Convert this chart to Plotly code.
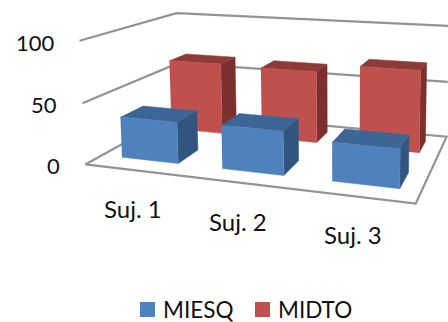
import numpy as np
import plotly.graph_objects as go

# Chart data
categories = ["Suj. 1", "Suj. 2", "Suj. 3"]
series_names = ["MIESQ", "MIDTO"]
miesq = [34, 35, 30]
midto = [64, 63, 70]
y_ticks = [0, 50, 100]

# Face colours of each series: front, top, right side
blue_faces = ("#4F81BD", "#3D6697", "#325580")
red_faces = ("#C0504D", "#8E3A38", "#7B302E")
GRID = "#939393"
TEXT = "#111111"

# Depth span of each series on the floor, and the bar layout along the category axis
blue_depth = (0.15, 0.37)
red_depth = (0.68, 0.88)
BAR_WIDTH = 0.58
CATEGORY_STEP = 1.015

# Perspective camera taking (category, depth, value) to screen position
CAMERA = np.array([
    [91.9437, 139.228, -0.0756199, 85.2989],
    [4.12098, -23.7281, -1.24599, 164.417],
    [-0.0438041, 0.25161, -0.000221645, 1.0],
])


def project(x, y, z):
    h = CAMERA @ np.array([x, y, z, 1.0])
    return h[0] / h[2], h[1] / h[2]


fig = go.Figure()


def polyline(corners, color, width):
    px = [project(*c) for c in corners]
    fig.add_trace(go.Scatter(
        x=[p[0] for p in px], y=[p[1] for p in px], mode="lines",
        line=dict(color=color, width=width), hoverinfo="skip", showlegend=False,
    ))


def face(corners, color, name):
    px = [project(*c) for c in corners]
    fig.add_trace(go.Scatter(
        x=[p[0] for p in px], y=[p[1] for p in px], mode="lines", fill="toself",
        fillcolor=color, line=dict(color=color, width=0.5),
        hoverinfo="skip", showlegend=False, name=name,
    ))


def bar(index, depth, value, faces, name):
    center = 0.5 + index * CATEGORY_STEP
    x0, x1 = center - BAR_WIDTH / 2, center + BAR_WIDTH / 2
    y0, y1 = depth
    front, top, side = faces
    face([(x1, y0, 0), (x1, y1, 0), (x1, y1, value), (x1, y0, value)], side, name)
    face([(x0, y0, value), (x1, y0, value), (x1, y1, value), (x0, y1, value)], top, name)
    face([(x0, y0, 0), (x1, y0, 0), (x1, y0, value), (x0, y0, value)], front, name)


n = len(categories)

# Floor outline, then gridlines along the left and back walls
polyline([(0, 0, 0), (n, 0, 0), (n, 1, 0), (0, 1, 0), (0, 0, 0)], GRID, 2.2)
for t in y_ticks[1:]:
    polyline([(0, 0, t), (0, 1, t), (n, 1, t)], GRID, 2.2)

for i, v in enumerate(midto):
    bar(i, red_depth, v, red_faces, series_names[1])
for i, v in enumerate(miesq):
    bar(i, blue_depth, v, blue_faces, series_names[0])

# Value labels sit left of the front wall
for t in y_ticks:
    x, y = project(0, 0, t)
    fig.add_annotation(text=str(t), x=x - 23, y=y + 1.5, xanchor="right", yanchor="middle",
                       showarrow=False, font=dict(size=22))

# Category labels hang below the front edge of the floor
for i, label in enumerate(categories):
    x, y = project(i + 0.5, 0, 0)
    fig.add_annotation(text=label, x=x - 1, y=y + 38.5, xanchor="center", yanchor="middle",
                       showarrow=False, font=dict(size=24))

# Legend keys and names along the bottom
legend_left = [140, 255]
for left, name, faces in zip(legend_left, series_names, (blue_faces, red_faces)):
    fig.add_shape(type="rect", x0=left, x1=left + 15, y0=302, y1=317,
                  fillcolor=faces[0], line_width=0)
    fig.add_annotation(text=name, x=left + 21, y=309, xanchor="left", yanchor="middle",
                       showarrow=False, font=dict(size=22.5))

fig.update_layout(
    width=448, height=322, margin=dict(l=0, r=0, t=0, b=0),
    paper_bgcolor="white", plot_bgcolor="white", showlegend=False,
    font=dict(family="Lato", color=TEXT, size=22),
    xaxis=dict(range=[0, 448], visible=False, fixedrange=True),
    yaxis=dict(range=[322, 0], visible=False, fixedrange=True),
)

fig.write_html("out.html")
